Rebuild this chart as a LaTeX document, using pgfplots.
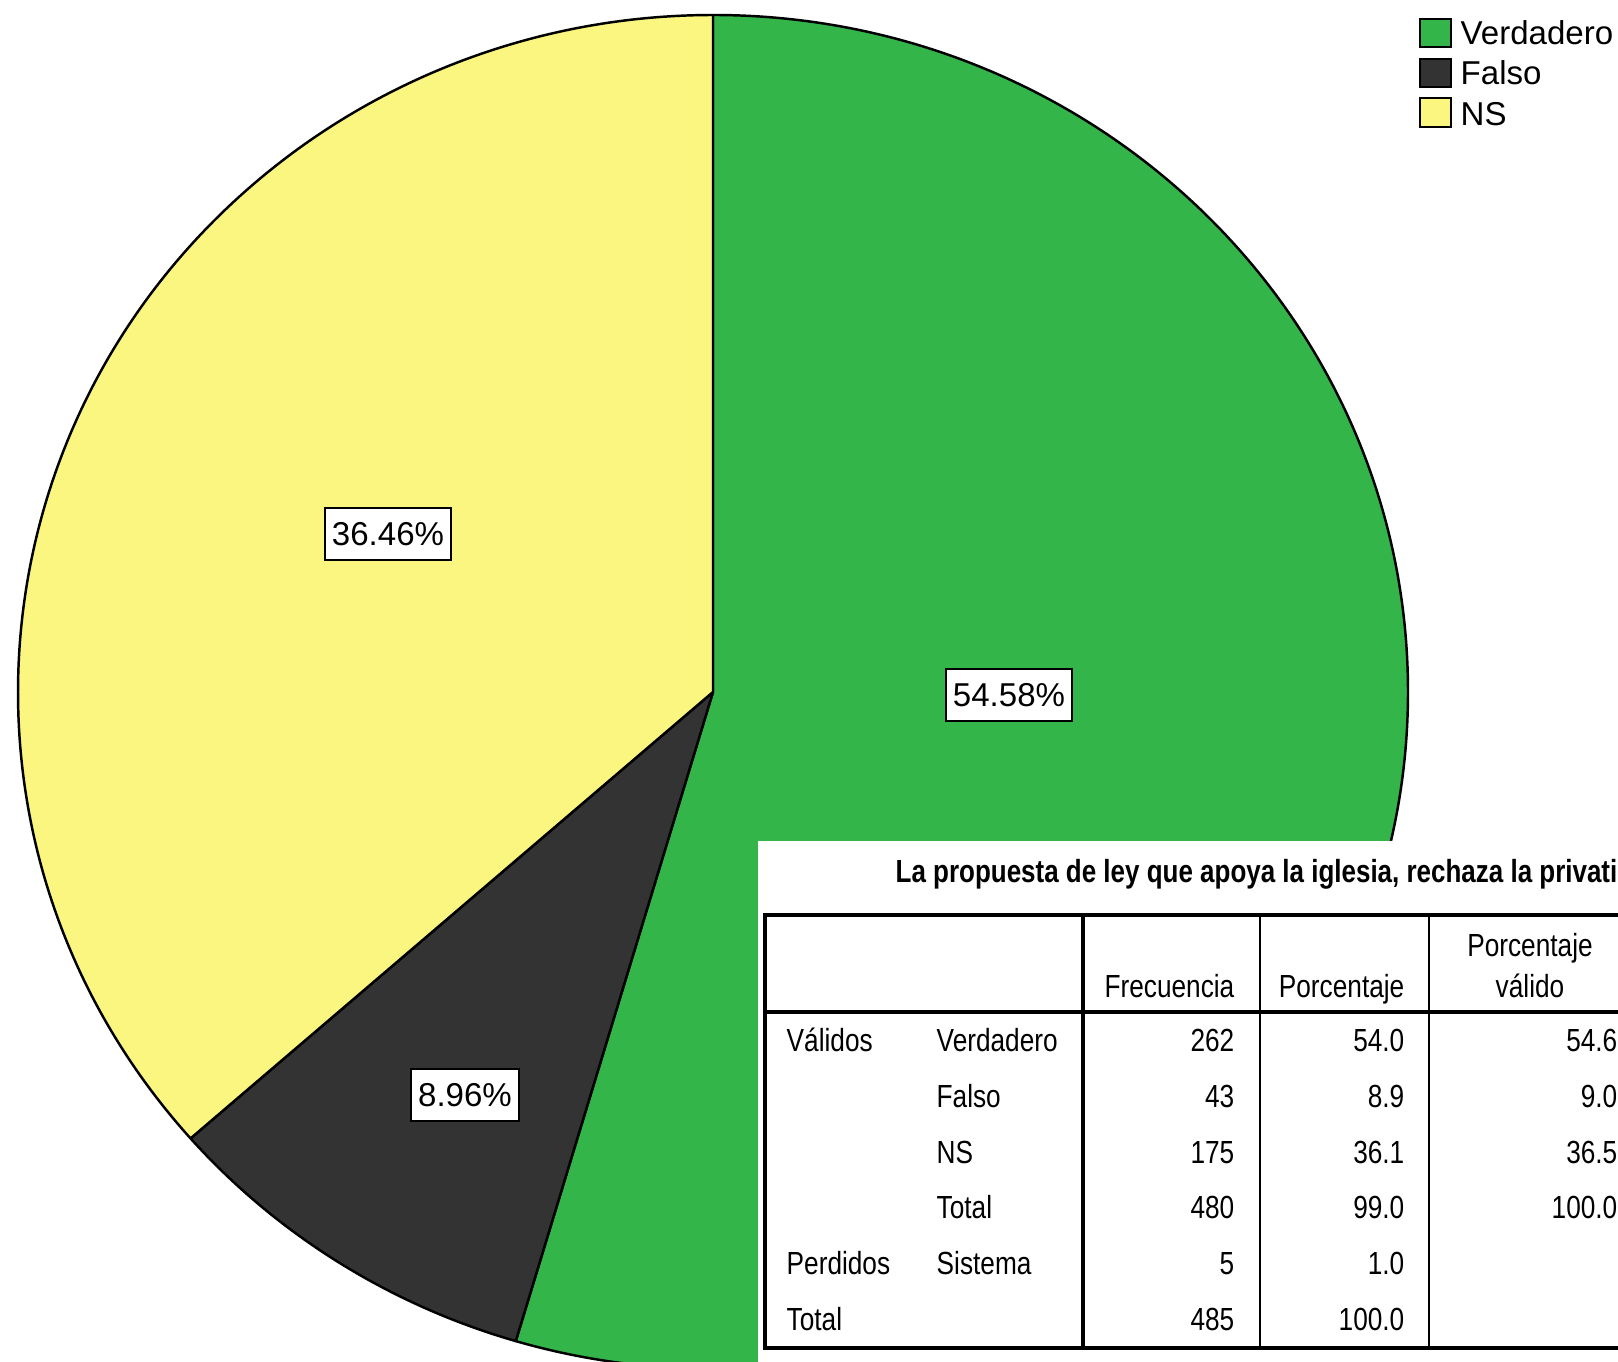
\documentclass[border=0pt]{standalone}
\usepackage{pgfplots}
\pgfplotsset{compat=1.18}
\usepackage{pgfplotstable}
\usepackage{fontspec}
\setmainfont{Liberation Sans}
\newfontfamily\narrowfont{Liberation Sans}[FakeStretch=0.82]
\newfontfamily\titlefont{Liberation Sans}[FakeStretch=0.812]
\definecolor{pgreen}{RGB}{51,181,74}
\definecolor{pdark}{RGB}{51,51,51}
\definecolor{pyellow}{RGB}{250,246,127}
\newcommand{\lblfont}{\fontsize{9.4pt}{11pt}\selectfont}
\newcommand{\tabfont}{\narrowfont\fontsize{9.1pt}{11pt}\selectfont}

\pgfplotstableread{
cat value
Verdadero 54.58
Falso 8.96
NS 36.46
}\piedata

\newcommand{\sector}[3]{%
  \filldraw[fill=#1, draw=black, line width=0.7pt, line join=round]
    (axis cs:713,670) -- (axis cs:{713+695*cos(#2)},{670+677*sin(#2)})
    arc[start angle=#2, end angle=#3, x radius=6.95cm, y radius=6.77cm] -- cycle;}

\begin{document}
\begin{tikzpicture}
\pgfplotstablegetelem{0}{value}\of\piedata\pgfmathsetmacro{\vA}{\pgfplotsretval}
\pgfplotstablegetelem{1}{value}\of\piedata\pgfmathsetmacro{\vB}{\pgfplotsretval}
\pgfplotstablegetelem{2}{value}\of\piedata\pgfmathsetmacro{\vC}{\pgfplotsretval}
\pgfmathsetmacro{\aA}{90}
\pgfmathsetmacro{\aB}{90-3.6*\vA}
\pgfmathsetmacro{\aC}{\aB-3.6*\vB}
\pgfmathsetmacro{\aD}{\aC-3.6*\vC}
\useasboundingbox (0,0) rectangle (16.18cm,13.62cm);
\begin{axis}[at={(0,0)}, anchor=south west, scale only axis,
  width=16.18cm, height=13.62cm, xmin=0, xmax=1618, ymin=0, ymax=1362,
  hide axis, clip=true]
% pie
\sector{pgreen}{\aA}{\aB}
\sector{pdark}{\aB}{\aC}
\sector{pyellow}{\aC}{\aD}
% pie labels
\node[draw=black, fill=white, line width=0.5pt, inner xsep=0.07cm, inner ysep=0.14cm,
  text height=0.24cm, text depth=0cm, font=\lblfont] at (axis cs:1009,667) {54.58\%};
\node[draw=black, fill=white, line width=0.5pt, inner xsep=0.07cm, inner ysep=0.14cm,
  text height=0.24cm, text depth=0cm, font=\lblfont] at (axis cs:465,267) {8.96\%};
\node[draw=black, fill=white, line width=0.5pt, inner xsep=0.07cm, inner ysep=0.14cm,
  text height=0.24cm, text depth=0cm, font=\lblfont] at (axis cs:388,828) {36.46\%};
% legend
\filldraw[fill=pgreen, draw=black, line width=0.6pt] (axis cs:1420,1315) rectangle (axis cs:1451,1343);
\filldraw[fill=pdark, draw=black, line width=0.6pt] (axis cs:1420,1275) rectangle (axis cs:1451,1303);
\filldraw[fill=pyellow, draw=black, line width=0.6pt] (axis cs:1420,1235) rectangle (axis cs:1451,1264);
\node[anchor=base west, inner sep=0, font=\lblfont] at (axis cs:1460,1317) {Verdadero};
\node[anchor=base west, inner sep=0, font=\lblfont] at (axis cs:1460,1277) {Falso};
\node[anchor=base west, inner sep=0, font=\lblfont] at (axis cs:1460,1236) {NS};
% table
\fill[white] (axis cs:758,0) rectangle (axis cs:1640,521);
\node[anchor=base west, inner sep=0, font=\titlefont\fontsize{9.1pt}{11pt}\selectfont\bfseries] at (axis cs:895,479)
  {La propuesta de ley que apoya la iglesia, rechaza la privati};
\draw[line width=1.28pt] (axis cs:1640,447) -- (axis cs:765,447) -- (axis cs:765,14) -- (axis cs:1640,14);
\draw[line width=1.28pt] (axis cs:765,350) -- (axis cs:1640,350);
\draw[line width=1.1pt] (axis cs:1083,447) -- (axis cs:1083,14);
\draw[line width=0.7pt] (axis cs:1260,447) -- (axis cs:1260,14);
\draw[line width=0.7pt] (axis cs:1429,447) -- (axis cs:1429,14);
% header
\node[anchor=base east, inner sep=0, font=\tabfont] at (axis cs:1235,364) {Frecuencia};
\node[anchor=base east, inner sep=0, font=\tabfont] at (axis cs:1405,364) {Porcentaje};
\node[anchor=base, inner sep=0, font=\tabfont] at (axis cs:1530,405) {Porcentaje};
\node[anchor=base, inner sep=0, font=\tabfont] at (axis cs:1530,364) {válido};
% row labels
\node[anchor=base west, inner sep=0, font=\tabfont] at (axis cs:786,310) {Válidos};
\node[anchor=base west, inner sep=0, font=\tabfont] at (axis cs:786,87) {Perdidos};
\node[anchor=base west, inner sep=0, font=\tabfont] at (axis cs:786,31) {Total};
\node[anchor=base west, inner sep=0, font=\tabfont] at (axis cs:936,310) {Verdadero};
\node[anchor=base west, inner sep=0, font=\tabfont] at (axis cs:936,254) {Falso};
\node[anchor=base west, inner sep=0, font=\tabfont] at (axis cs:936,198) {NS};
\node[anchor=base west, inner sep=0, font=\tabfont] at (axis cs:936,143) {Total};
\node[anchor=base west, inner sep=0, font=\tabfont] at (axis cs:936,87) {Sistema};
% Frecuencia
\node[anchor=base east, inner sep=0, font=\tabfont] at (axis cs:1235,310) {262};
\node[anchor=base east, inner sep=0, font=\tabfont] at (axis cs:1235,254) {43};
\node[anchor=base east, inner sep=0, font=\tabfont] at (axis cs:1235,198) {175};
\node[anchor=base east, inner sep=0, font=\tabfont] at (axis cs:1235,143) {480};
\node[anchor=base east, inner sep=0, font=\tabfont] at (axis cs:1235,87) {5};
\node[anchor=base east, inner sep=0, font=\tabfont] at (axis cs:1235,31) {485};
% Porcentaje
\node[anchor=base east, inner sep=0, font=\tabfont] at (axis cs:1405,310) {54.0};
\node[anchor=base east, inner sep=0, font=\tabfont] at (axis cs:1405,254) {8.9};
\node[anchor=base east, inner sep=0, font=\tabfont] at (axis cs:1405,198) {36.1};
\node[anchor=base east, inner sep=0, font=\tabfont] at (axis cs:1405,143) {99.0};
\node[anchor=base east, inner sep=0, font=\tabfont] at (axis cs:1405,87) {1.0};
\node[anchor=base east, inner sep=0, font=\tabfont] at (axis cs:1405,31) {100.0};
% Porcentaje valido
\node[anchor=base east, inner sep=0, font=\tabfont] at (axis cs:1618,310) {54.6};
\node[anchor=base east, inner sep=0, font=\tabfont] at (axis cs:1618,254) {9.0};
\node[anchor=base east, inner sep=0, font=\tabfont] at (axis cs:1618,198) {36.5};
\node[anchor=base east, inner sep=0, font=\tabfont] at (axis cs:1618,143) {100.0};
\end{axis}
\end{tikzpicture}
\end{document}
